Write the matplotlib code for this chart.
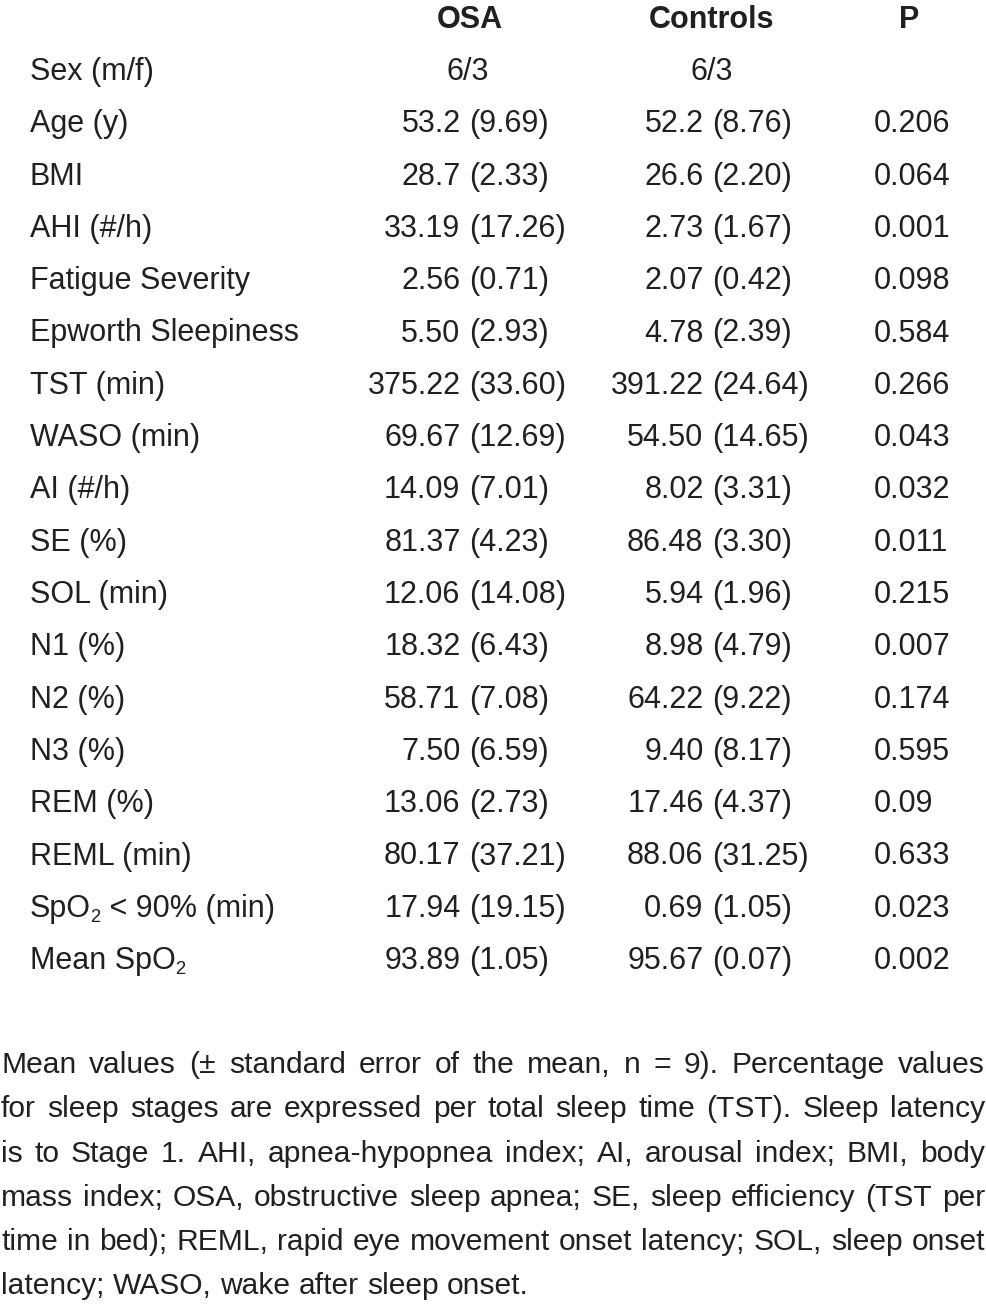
import matplotlib
matplotlib.use("Agg")
import matplotlib.pyplot as plt

plt.rcParams["font.family"] = ["Liberation Sans Narrow", "Liberation Sans", "DejaVu Sans"]

# ---------------------------------------------------------------
# Table data
# ---------------------------------------------------------------
columns = ["OSA", "Controls", "P"]
row_labels = [
    "Sex (m/f)", "Age (y)", "BMI", "AHI (#/h)", "Fatigue Severity",
    "Epworth Sleepiness", "TST (min)", "WASO (min)", "AI (#/h)", "SE (%)",
    "SOL (min)", "N1 (%)", "N2 (%)", "N3 (%)", "REM (%)", "REML (min)",
    "SpO_2 < 90% (min)", "Mean SpO_2",
]
osa_mean = ["6/3", "53.2", "28.7", "33.19", "2.56", "5.50", "375.22", "69.67",
            "14.09", "81.37", "12.06", "18.32", "58.71", "7.50", "13.06",
            "80.17", "17.94", "93.89"]
osa_sd = ["", "9.69", "2.33", "17.26", "0.71", "2.93", "33.60", "12.69",
          "7.01", "4.23", "14.08", "6.43", "7.08", "6.59", "2.73", "37.21",
          "19.15", "1.05"]
ctrl_mean = ["6/3", "52.2", "26.6", "2.73", "2.07", "4.78", "391.22", "54.50",
             "8.02", "86.48", "5.94", "8.98", "64.22", "9.40", "17.46",
             "88.06", "0.69", "95.67"]
ctrl_sd = ["", "8.76", "2.20", "1.67", "0.42", "2.39", "24.64", "14.65",
           "3.31", "3.30", "1.96", "4.79", "9.22", "8.17", "4.37", "31.25",
           "1.05", "0.07"]
p_values = ["", "0.206", "0.064", "0.001", "0.098", "0.584", "0.266", "0.043",
            "0.032", "0.011", "0.215", "0.007", "0.174", "0.595", "0.09",
            "0.633", "0.023", "0.002"]

footnote_lines = [
    "Mean values (\u00b1 standard error of the mean, n = 9). Percentage values",
    "for sleep stages are expressed per total sleep time (TST). Sleep latency",
    "is to Stage 1. AHI, apnea-hypopnea index; AI, arousal index; BMI, body",
    "mass index; OSA, obstructive sleep apnea; SE, sleep efficiency (TST per",
    "time in bed); REML, rapid eye movement onset latency; SOL, sleep onset",
    "latency; WASO, wake after sleep onset.",
]

INK = "#231f20"
FS = 22
FS_HEAD = 22

fig = plt.figure(figsize=(9.86, 13.06), dpi=100)
ax = fig.add_axes([0, 0, 1, 1])
ax.set_xlim(0, 986)
ax.set_ylim(1306, 0)
ax.axis("off")
renderer = fig.canvas.get_renderer()


def width_of(t):
    return t.get_window_extent(renderer).width


def measure(s, size):
    t = ax.text(0, 0, s, fontsize=size)
    w = width_of(t)
    t.remove()
    return w


def draw_label(x, y, label):
    # "_2" marks the subscript in SpO2
    parts = label.split("_2")
    cur = x
    for k, part in enumerate(parts):
        if part:
            t = ax.text(cur, y, part, fontsize=FS, color=INK, va="baseline", ha="left")
            cur += width_of(t)
        if k < len(parts) - 1:
            t = ax.text(cur - 1, y + 5, "2", fontsize=FS * 0.6, color=INK,
                        va="baseline", ha="left")
            cur += width_of(t)


# header
head_x = [470, 712, 909]
for x, name in zip(head_x, columns):
    ax.text(x, 28, name, fontsize=FS_HEAD, fontweight="bold", color=INK,
            ha="center", va="baseline")

# body rows
row0, pitch = 80, 52.3
osa_x, ctrl_x, p_x = 469, 712, 874
space = measure("0 0", FS) - 2 * measure("0", FS)
for i, label in enumerate(row_labels):
    y = row0 + pitch * i
    draw_label(30, y, label)
    if osa_sd[i]:
        ax.text(osa_x - space, y, osa_mean[i], fontsize=FS, color=INK, ha="right", va="baseline")
        ax.text(osa_x, y, f"({osa_sd[i]})", fontsize=FS, color=INK, ha="left", va="baseline")
        ax.text(ctrl_x - space, y, ctrl_mean[i], fontsize=FS, color=INK, ha="right", va="baseline")
        ax.text(ctrl_x, y, f"({ctrl_sd[i]})", fontsize=FS, color=INK, ha="left", va="baseline")
    else:
        ax.text(468, y, osa_mean[i], fontsize=FS, color=INK, ha="center", va="baseline")
        ax.text(712, y, ctrl_mean[i], fontsize=FS, color=INK, ha="center", va="baseline")
    if p_values[i]:
        ax.text(p_x, y, p_values[i], fontsize=FS, color=INK, ha="left", va="baseline")

# justified footnote; size chosen so the longest line fits the width naturally
left, right = 1, 985
base = 21
widest = max(measure(line, base) for line in footnote_lines)
fs_note = min(24.0, base * (right - left - 6) / widest)
note0, note_pitch = 1073, 44.3
for j, line in enumerate(footnote_lines):
    y = note0 + note_pitch * j
    words = line.split(" ")
    texts = [ax.text(0, y, w, fontsize=fs_note, color=INK, ha="left", va="baseline")
             for w in words]
    widths = [width_of(t) for t in texts]
    if j == len(footnote_lines) - 1:
        gap = measure("a a", fs_note) - 2 * measure("a", fs_note)
    else:
        gap = (right - left - sum(widths)) / (len(words) - 1)
    cur = left
    for t, w in zip(texts, widths):
        t.set_x(cur)
        cur += w + gap

fig.savefig("out.png", dpi=100)
